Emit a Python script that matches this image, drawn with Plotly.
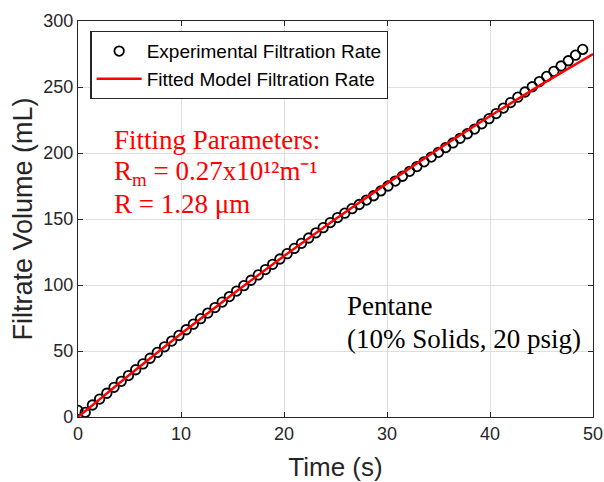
import plotly.graph_objects as go

time_exp = [0.0, 0.7, 1.4, 2.1, 2.8, 3.5, 4.2, 4.9, 5.6, 6.3, 7.0, 7.7, 8.4, 9.1, 9.8,
            10.5, 11.2, 11.9, 12.6, 13.3, 14.0, 14.7, 15.4, 16.1, 16.8, 17.5, 18.2,
            18.9, 19.6, 20.3, 21.0, 21.7, 22.4, 23.1, 23.8, 24.5, 25.2, 25.9, 26.6,
            27.3, 28.0, 28.7, 29.4, 30.1, 30.8, 31.5, 32.2, 32.9, 33.6, 34.3, 35.0,
            35.7, 36.4, 37.1, 37.8, 38.5, 39.2, 39.9, 40.6, 41.3, 42.0, 42.7, 43.4,
            44.1, 44.8, 45.5, 46.2, 46.9, 47.6, 48.3, 49.0]
volume_exp = [5.0, 3.5, 9.1, 13.6, 18.0, 22.5, 27.0, 31.4, 35.8, 40.2, 44.5, 48.9, 53.2,
              57.5, 61.8, 66.1, 70.3, 74.5, 78.7, 82.9, 87.1, 91.2, 95.4, 99.5, 103.6,
              107.6, 111.7, 115.7, 119.7, 123.7, 127.7, 131.6, 135.6, 139.5, 143.4,
              147.3, 151.1, 154.4, 157.8, 161.0, 164.3, 167.6, 171.3, 175.0, 178.7,
              182.4, 186.1, 189.7, 193.3, 196.9, 200.5, 204.1, 207.6, 211.1, 214.6,
              218.1, 222.1, 226.0, 229.9, 234.0, 238.2, 242.3, 246.2, 250.2, 254.1,
              258.0, 261.9, 265.9, 269.9, 274.1, 278.5]

# fitted model curve
time_fit = [0, 5, 10, 15, 20, 25, 30, 35, 40, 45, 50]
volume_fit = [0, 32, 63, 93, 122, 150, 177, 203, 228, 252, 275]

x_ticks = [0, 10, 20, 30, 40, 50]
y_ticks = [0, 50, 100, 150, 200, 250, 300]

AX = "#262626"
SANS = "Liberation Sans, Arial, sans-serif"
SERIF = "Liberation Serif, Times New Roman, serif"

fig = go.Figure()
fig.add_trace(go.Scatter(
    x=time_exp, y=volume_exp, mode="markers",
    name="Experimental Filtration Rate",
    marker=dict(symbol="circle-open", size=9.5, color="black", line=dict(width=1.8, color="black")),
))
fig.add_trace(go.Scatter(
    x=time_fit, y=volume_fit, mode="lines",
    name="Fitted Model Filtration Rate",
    line=dict(color="#ff0000", width=2.5),
))

axis_common = dict(
    showline=True, linecolor=AX, linewidth=1.3, mirror="ticks",
    ticks="inside", ticklen=5, tickcolor=AX, tickwidth=1.3,
    showgrid=True, gridcolor="#dfdfdf", gridwidth=1,
    zeroline=False, automargin=False,
    tickfont=dict(family=SANS, size=18, color=AX),
)

fig.update_xaxes(range=[0, 50], tickvals=x_ticks,
                 title=dict(text="Time (s)", font=dict(family=SANS, size=26, color=AX)),
                 **axis_common)
fig.update_yaxes(range=[0, 300], tickvals=y_ticks,
                 title=dict(text="Filtrate Volume (mL)", font=dict(family=SANS, size=27, color=AX),
                            standoff=2),
                 **axis_common)

red_lines = ["Fitting Parameters:",
             "R<sub>m</sub> = 0.27x10¹²m⁻¹",
             "R = 1.28 μm"]
red_y = [210, 185, 161]
for txt, yv in zip(red_lines, red_y):
    fig.add_annotation(x=3.3, y=yv, text=txt, showarrow=False, xanchor="left", yanchor="middle",
                       font=dict(family=SERIF, size=27, color="#ff0000"))

black_lines = ["Pentane", "(10% Solids, 20 psig)"]
black_y = [84, 59]
for txt, yv in zip(black_lines, black_y):
    fig.add_annotation(x=25.9, y=yv, text=txt, showarrow=False, xanchor="left", yanchor="middle",
                       font=dict(family=SERIF, size=27, color="black"))

fig.update_layout(
    width=604, height=482,
    margin=dict(l=78, r=11, t=21, b=65),
    paper_bgcolor="white", plot_bgcolor="white",
    legend=dict(x=0.024, y=0.975, xanchor="left", yanchor="top",
                bgcolor="white", bordercolor=AX, borderwidth=1.3,
                font=dict(family=SANS, size=19, color="black"),
                itemwidth=45, tracegroupgap=0),
    showlegend=True,
)

# drop the default 8px page margin so the figure fills the window
fig.write_html("out.html", config={"displayModeBar": False},
               post_script="document.body.style.margin='0';document.body.style.overflow='hidden';")
